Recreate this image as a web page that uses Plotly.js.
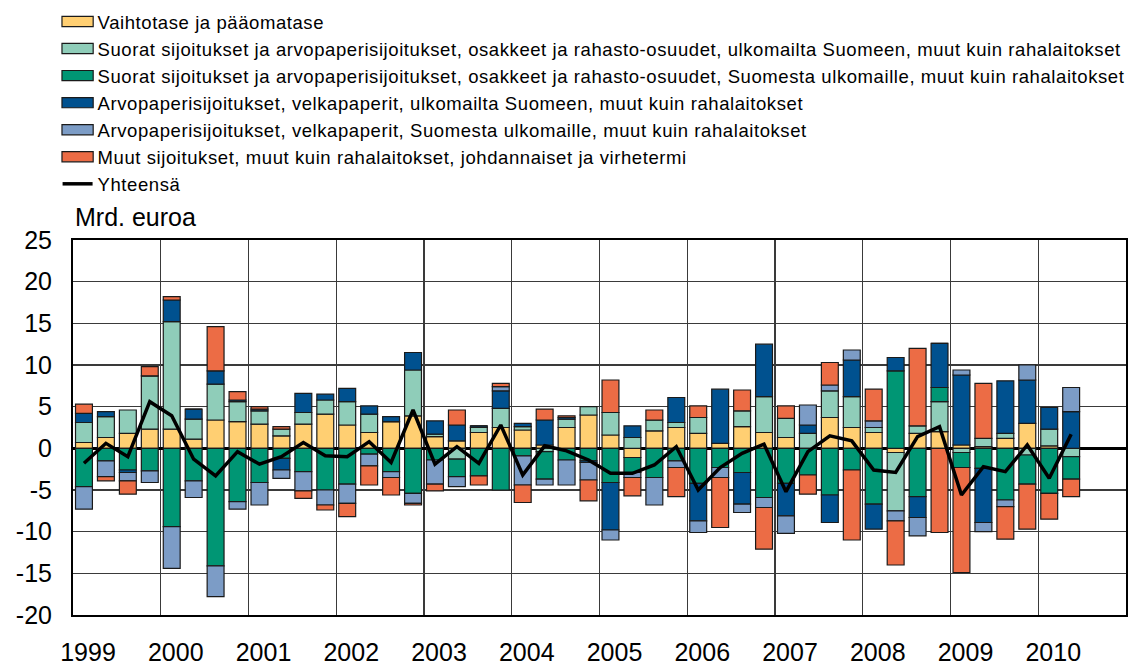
<!DOCTYPE html>
<html>
<head>
<meta charset="utf-8">
<script src="https://cdn.plot.ly/plotly-3.0.1.min.js"></script>
<style>
html,body{margin:0;padding:0;background:#fff;}
#chart{width:1129px;height:664px;}
#chart .legendtext{letter-spacing:0.58px;}
#chart .legend .scrollbox{clip-path:none !important;}
#chart .legend{clip-path:none !important;}
#chart .legend .legendpoints path{transform:translate(20px,0px) scale(2.6,0.85) !important;vector-effect:non-scaling-stroke;}
</style>
</head>
<body>
<div id="chart"></div>
<script>
// Quarters 1999Q1 .. 2010Q2
var quarters = [];
for (var yy = 1999; yy <= 2010; yy++) { for (var q = 1; q <= 4; q++) { quarters.push(yy + 'Q' + q); } }
quarters = quarters.slice(0, 46);

var yearLabels = ['1999','2000','2001','2002','2003','2004','2005','2006','2007','2008','2009','2010'];
var yTickVals = [-20,-15,-10,-5,0,5,10,15,20,25];
var yTickText = ['-20','-15','-10','-5','0','5','10','15','20','25'];

var vaihtotase = [0.7,1.3,1.8,2.3,2.3,1.1,3.4,3.2, 2.9,1.5,2.9,4.1,2.8,1.9,3.2,3.9, 1.4,0.9,1.9,2.5,2.2,0.4,2.5,4.0, 1.6,-1.1,2.1,2.5,1.8,0.6,2.6,1.9, 1.3,0,3.7,2.5,1.9,-0.5,1.8,2.0, 0.4,0.2,1.2,3.0,0.3,0];
var suoratUlkomailta = [2.4,2.5,2.8,6.4,12.9,2.4,4.3,2.4, 1.6,0.8,1.4,1.7,2.8,2.2,0,5.5, 0.3,-1.3,0.6,2.3,0.4,-0.4,1.0,1.0, 2.7,1.3,1.3,0.6,1.9,0,1.9,4.3, 2.3,1.8,3.2,3.7,0.6,-7.0,0.9,3.6, -0.5,1.0,0.6,-0.8,2.0,-1.0];
var suoratSuomesta = [-4.6,-1.5,-2.6,-2.7,-9.4,-3.9,-14.1,-6.4, -4.1,-1.2,-2.8,-5.0,-4.3,-0.7,-2.8,-5.4, -1.4,-2.1,-3.3,-5.0,-0.9,-3.3,-1.4,-1.5, -4.1,-1.8,-3.5,-1.5,-4.2,-2.3,-2.9,-5.9, -4.2,-3.2,-5.6,-2.6,-6.7,9.3,-5.8,1.7, -1.8,-2.4,-6.2,-3.5,-5.4,-2.7];
var velkaUlkomailta = [1.1,0.6,-0.3,0,2.6,1.2,1.6,0.2, 0.2,-1.4,2.3,0.7,1.6,1.0,0.6,2.1, 1.6,1.9,0.2,2.1,0.4,3.0,0.2,-0.2, -5.7,1.4,0,3.0,-4.5,6.5,-3.8,6.3, -3.9,1.0,-3.3,4.4,-3.0,1.6,-2.5,5.3, 8.4,-6.5,6.3,5.2,2.6,4.4];
var velkaSuomesta = [-2.7,-1.9,-1.0,-1.4,-5.0,-2.0,-3.7,-0.9, -2.7,-1.0,-2.3,-1.8,-2.3,-1.4,-0.7,-1.2, -2.9,-1.2,0,0.5,-3.5,-0.7,-3.0,-2.1, -1.2,-0.6,-3.3,-0.8,-1.4,-1.2,-1.0,-1.2, -2.1,2.4,0.7,1.2,0.8,-1.2,-2.2,0, 0.6,-1.1,-0.8,1.8,0,2.9];
var muut = [1.1,-0.5,-1.6,1.1,0.4,0,5.3,1.0, 0.3,0.3,-0.9,-0.6,-1.6,-2.3,-2.1,-0.2, -0.8,1.8,-1.1,0.4,-2.1,1.3,0.2,-2.5, 3.9,-2.2,1.2,-3.5,1.4,-6.0,2.5,-5.0, 1.5,-2.3,2.7,-8.4,3.8,-5.3,9.3,-10.1, -12.6,6.6,-3.9,-5.4,-3.1,-2.1];
var yhteensa = [-1.8,0.6,-1.0,5.6,3.9,-1.3,-3.3,-0.4, -1.9,-1.0,0.7,-0.9,-1.0,0.8,-1.7,4.6, -1.9,0.2,-1.8,2.8,-3.2,0.3,-0.3,-1.4, -3.0,-3.0,-2.0,0.2,-5.0,-2.3,-0.6,0.5, -5.2,-0.4,1.5,0.9,-2.6,-2.9,1.4,2.6, -5.6,-2.2,-2.8,0.4,-3.6,1.7];

var seriesNames = [
  'Vaihtotase ja pääomatase',
  'Suorat sijoitukset ja arvopaperisijoitukset, osakkeet ja rahasto-osuudet, ulkomailta Suomeen, muut kuin rahalaitokset',
  'Suorat sijoitukset ja arvopaperisijoitukset, osakkeet ja rahasto-osuudet, Suomesta ulkomaille, muut kuin rahalaitokset',
  'Arvopaperisijoitukset, velkapaperit, ulkomailta Suomeen, muut kuin rahalaitokset',
  'Arvopaperisijoitukset, velkapaperit, Suomesta ulkomaille, muut kuin rahalaitokset',
  'Muut sijoitukset, muut kuin rahalaitokset, johdannaiset ja virhetermi'
];
var totalName = 'Yhteensä';
var seriesColors = ['#FFCF72','#8FCDB9','#009674','#00518F','#7C9CC6','#EC6C45'];
var seriesData = [vaihtotase, suoratUlkomailta, suoratSuomesta, velkaUlkomailta, velkaSuomesta, muut];

var xIdx = quarters.map(function(_, i){ return i; });
var yearTickVals = yearLabels.map(function(_, i){ return i*4 - 0.5; });

var FONT = 'Arial, "Liberation Sans", sans-serif';

var traces = seriesData.map(function(d, k){
  return {
    type: 'bar', x: xIdx, y: d, name: seriesNames[k],
    marker: {color: seriesColors[k], line: {color: '#1a1a1a', width: 1.2}},
    hoverinfo: 'name+y'
  };
});
traces.push({
  type: 'scatter', mode: 'lines', x: xIdx, y: yhteensa, name: totalName,
  line: {color: '#000000', width: 3.5}
});

var layout = {
  width: 1129, height: 664,
  margin: {l: 73, r: 3, t: 240, b: 49, autoexpand: false},
  paper_bgcolor: '#ffffff', plot_bgcolor: '#ffffff',
  font: {family: FONT, color: '#000', size: 25},
  barmode: 'relative', bargap: 0.23,
  showlegend: true,
  legend: {
    xref: 'container', yref: 'container', x: 0.051, y: 0.9955, xanchor: 'left', yanchor: 'top',
    traceorder: 'normal', font: {family: FONT, size: 18.5, color: '#000'},
    bgcolor: 'rgba(0,0,0,0)', borderwidth: 0, tracegroupgap: 0
  },
  xaxis: {
    range: [-0.5, 47.5], tickvals: yearTickVals, ticktext: yearLabels,
    ticklabelshift: 15, ticklabelstandoff: 14, ticks: '',
    showgrid: true, gridcolor: '#3a3a3a', gridwidth: 1.4,
    showline: true, linecolor: '#000', linewidth: 2, mirror: true,
    zeroline: false, tickfont: {size: 25}, fixedrange: true
  },
  yaxis: {
    range: [-20, 25], tickvals: yTickVals, ticktext: yTickText, ticks: '',
    ticklabelstandoff: 14,
    showgrid: true, gridcolor: '#3a3a3a', gridwidth: 1.4,
    zeroline: true, zerolinecolor: '#000', zerolinewidth: 2.5,
    showline: true, linecolor: '#000', linewidth: 2, mirror: true,
    tickfont: {size: 25}, fixedrange: true
  },
  annotations: [{
    text: 'Mrd. euroa', xref: 'paper', yref: 'paper', x: 0, y: 1,
    xanchor: 'left', yanchor: 'middle', xshift: 0, yshift: 23, showarrow: false,
    font: {size: 25, family: FONT, color: '#000'}
  }]
};

Plotly.newPlot('chart', traces, layout, {displayModeBar: false, staticPlot: true});
</script>
</body>
</html>
